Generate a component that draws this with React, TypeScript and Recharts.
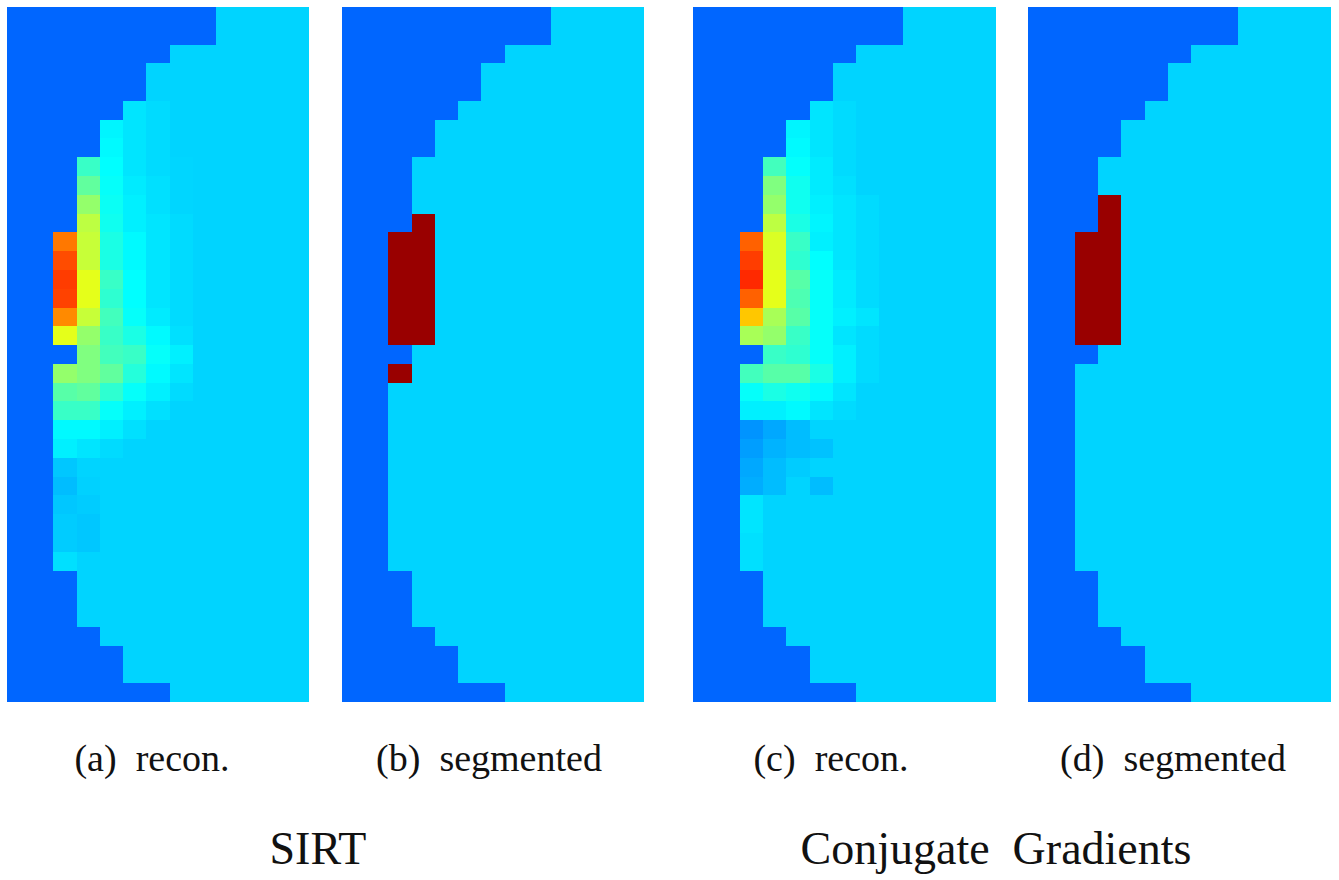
import React from "react"
import { BarChart, Bar, Cell, XAxis, YAxis } from "recharts"

const N_COLS = 13
const N_ROWS = 37

// how many dark (outside) columns sit on the left of each pixel row
const rowEdge = [9, 9, 7, 6, 6, 5, 4, 4, 3, 3, 3, 3, 2, 2, 2, 2, 2, 2, 3, 2, 2, 2, 2, 2, 2, 2, 2, 2, 2, 2, 3, 3, 3, 4, 5, 5, 7]

// jet colormap values
const BG = 0.225
const BODY = 0.333
const INCL = 0.975

// reconstructed values for rows 5..29, columns 2..7 (null = untouched)
const PATCH_ROW0 = 5
const PATCH_COL0 = 2

const sirtPatch: (number | null)[][] = [
  [null, null, null, 0.35, 0.34, 0.333],
  [null, null, 0.365, 0.35, 0.34, 0.333],
  [null, null, 0.37, 0.35, 0.34, 0.333],
  [null, 0.43, 0.375, 0.35, 0.34, 0.335],
  [null, 0.47, 0.38, 0.355, 0.345, 0.335],
  [null, 0.52, 0.385, 0.36, 0.345, 0.335],
  [null, 0.56, 0.39, 0.36, 0.35, 0.34],
  [0.757, 0.57, 0.4, 0.37, 0.35, 0.34],
  [0.8, 0.57, 0.4, 0.37, 0.35, 0.34],
  [0.816, 0.6, 0.43, 0.375, 0.35, 0.34],
  [0.81, 0.6, 0.42, 0.375, 0.35, 0.34],
  [0.74, 0.57, 0.44, 0.38, 0.355, 0.34],
  [0.6, 0.52, 0.43, 0.4, 0.37, 0.345],
  [null, 0.5, 0.44, 0.43, 0.38, 0.36],
  [0.52, 0.5, 0.47, 0.41, 0.37, 0.35],
  [0.46, 0.47, 0.42, 0.38, 0.36, 0.34],
  [0.43, 0.43, 0.38, 0.36, 0.345, 0.333],
  [0.37, 0.37, 0.36, 0.345, 0.333, 0.333],
  [0.36, 0.35, 0.34, 0.333, 0.333, 0.333],
  [0.32, 0.333, null, null, null, null],
  [0.31, 0.33, null, null, null, null],
  [0.32, 0.325, null, null, null, null],
  [0.325, 0.32, null, null, null, null],
  [0.325, 0.32, null, null, null, null],
  [0.345, 0.333, null, null, null, null],
]

const cgPatch: (number | null)[][] = [
  [null, null, null, 0.35, 0.34, 0.333],
  [null, null, 0.365, 0.35, 0.34, 0.333],
  [null, null, 0.37, 0.35, 0.34, 0.333],
  [null, 0.44, 0.378, 0.355, 0.34, 0.333],
  [null, 0.5, 0.39, 0.355, 0.345, 0.333],
  [null, 0.52, 0.39, 0.36, 0.35, 0.34],
  [null, 0.56, 0.4, 0.365, 0.35, 0.34],
  [0.78, 0.59, 0.43, 0.36, 0.35, 0.34],
  [0.815, 0.59, 0.42, 0.375, 0.35, 0.34],
  [0.835, 0.6, 0.46, 0.38, 0.355, 0.34],
  [0.78, 0.6, 0.45, 0.38, 0.355, 0.34],
  [0.68, 0.54, 0.46, 0.38, 0.36, 0.35],
  [0.54, 0.52, 0.43, 0.38, 0.35, 0.34],
  [null, 0.43, 0.42, 0.38, 0.36, 0.34],
  [0.44, 0.46, 0.46, 0.4, 0.36, 0.34],
  [0.38, 0.4, 0.39, 0.37, 0.35, 0.333],
  [0.36, 0.36, 0.37, 0.35, 0.34, 0.333],
  [0.27, 0.29, 0.31, 0.333, 0.333, 0.333],
  [0.28, 0.3, 0.31, 0.315, 0.333, 0.333],
  [0.29, 0.31, 0.325, 0.333, null, null],
  [0.295, 0.31, 0.333, 0.31, null, null],
  [0.35, 0.333, null, null, null, null],
  [0.35, 0.333, null, null, null, null],
  [0.345, 0.333, null, null, null, null],
  [0.345, 0.333, null, null, null, null],
]

// [row, col] of cells classified as inclusion
const sirtInclusion: [number, number][] = [
  [11, 3], [12, 2], [12, 3], [13, 2], [13, 3], [14, 2], [14, 3],
  [15, 2], [15, 3], [16, 2], [16, 3], [17, 2], [17, 3], [19, 2],
]
const cgInclusion: [number, number][] = [
  [10, 3], [11, 3], [12, 2], [12, 3], [13, 2], [13, 3], [14, 2], [14, 3],
  [15, 2], [15, 3], [16, 2], [16, 3], [17, 2], [17, 3],
]

const subLabels = ["(a)\u00a0 recon.", "(b)\u00a0 segmented", "(c)\u00a0 recon.", "(d)\u00a0 segmented"]
const groupTitles = ["SIRT", "Conjugate\u00a0 Gradients"]

function jet(v: number) {
  const c = (x: number) => Math.round(255 * Math.max(0, Math.min(1, x)))
  return `rgb(${c(1.5 - Math.abs(4 * v - 3))},${c(1.5 - Math.abs(4 * v - 2))},${c(1.5 - Math.abs(4 * v - 1))})`
}

function baseGrid() {
  return rowEdge.map((edge) => Array.from({ length: N_COLS }, (_, c) => (c < edge ? BG : BODY)))
}

function reconGrid(patch: (number | null)[][]) {
  const g = baseGrid()
  patch.forEach((vals, i) => {
    const r = PATCH_ROW0 + i
    vals.forEach((v, j) => {
      const c = PATCH_COL0 + j
      if (v != null && c >= rowEdge[r]) g[r][c] = v
    })
  })
  return g
}

function segGrid(cells: [number, number][]) {
  const g = baseGrid()
  cells.forEach(([r, c]) => (g[r][c] = INCL))
  return g
}

const colKeys = Array.from({ length: N_COLS }, (_, c) => `c${c}`)
const rowData = Array.from({ length: N_ROWS }, (_, r) => {
  const d: Record<string, number> = { row: r }
  colKeys.forEach((k) => (d[k] = 1))
  return d
})

const PANEL_TOP = 7
const PANEL_H = 695

function Panel({ grid, left, width }: { grid: number[][]; left: number; width: number }) {
  return (
    <div style={{ position: "absolute", left, top: PANEL_TOP }}>
      <BarChart
        width={width}
        height={PANEL_H}
        data={rowData}
        layout="vertical"
        margin={{ top: 0, right: 0, bottom: 0, left: 0 }}
        barCategoryGap={0}
        barGap={0}
      >
        <XAxis type="number" domain={[0, N_COLS]} hide />
        <YAxis type="category" dataKey="row" hide />
        {colKeys.map((key, c) => (
          <Bar key={key} dataKey={key} stackId="px" isAnimationActive={false}>
            {grid.map((vals, r) => (
              <Cell key={r} fill={jet(vals[c])} shapeRendering="crispEdges" />
            ))}
          </Bar>
        ))}
      </BarChart>
    </div>
  )
}

export default function App() {
  const panels = [
    { grid: reconGrid(sirtPatch), left: 7, width: 302 },
    { grid: segGrid(sirtInclusion), left: 342, width: 302 },
    { grid: reconGrid(cgPatch), left: 693, width: 303 },
    { grid: segGrid(cgInclusion), left: 1028, width: 303 },
  ]
  const labelX = [152, 489, 831, 1173]
  const titleX = [318, 996]
  return (
    <div style={{ position: "absolute", left: 0, top: 0, width: 1339, height: 880, background: "#fff" }}>
      {panels.map((p, i) => (
        <Panel key={i} {...p} />
      ))}
      <svg width={1339} height={880} style={{ position: "absolute", left: 0, top: 0, pointerEvents: "none" }}>
        {subLabels.map((t, i) => (
          <text key={t} x={labelX[i]} y={771} textAnchor="middle" fontFamily="Liberation Serif" fontSize={38} fill="#111">
            {t}
          </text>
        ))}
        {groupTitles.map((t, i) => (
          <text key={t} x={titleX[i]} y={864} textAnchor="middle" fontFamily="Liberation Serif" fontSize={46} fill="#111">
            {t}
          </text>
        ))}
      </svg>
    </div>
  )
}
